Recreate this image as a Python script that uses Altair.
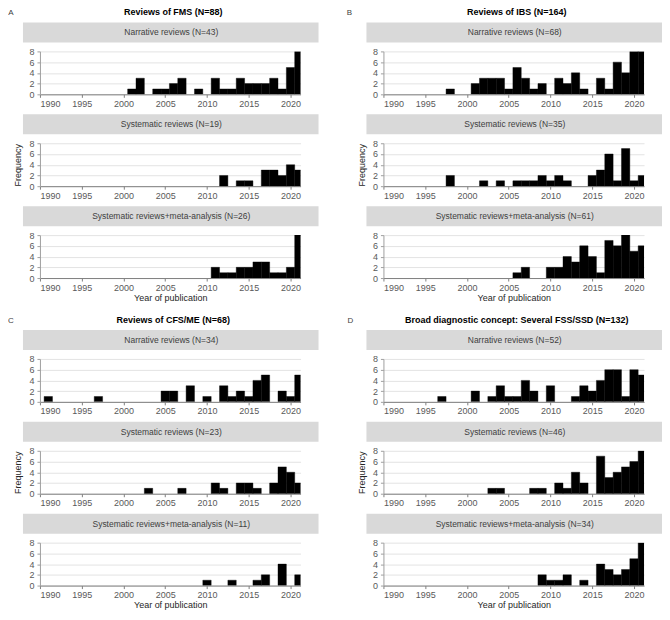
import altair as alt
import pandas as pd

FONT = "Liberation Sans"
W = 261
H = 43

YEARS = list(range(1990, 2022))
TICK_YEARS = [1990, 1995, 2000, 2005, 2010, 2015, 2020]
FREQ_TICKS = [0, 2, 4, 6, 8]

# Number of reviews per publication year, 1990 ... 2021 (32 values each)
#                  1990s                  2000s                  2010s                 2020 2021
fms_narrative  = [0,0,0,0,0,0,0,0,0,0, 0,1,3,0,1,1,2,3,0,1, 0,3,1,1,3,2,2,2,3,1, 5,8]
fms_systematic = [0,0,0,0,0,0,0,0,0,0, 0,0,0,0,0,0,0,0,0,0, 0,0,2,0,1,1,0,3,3,2, 4,3]
fms_srma       = [0,0,0,0,0,0,0,0,0,0, 0,0,0,0,0,0,0,0,0,0, 0,2,1,1,2,2,3,3,1,1, 2,8]

ibs_narrative  = [0,0,0,0,0,0,0,0,1,0, 0,2,3,3,3,1,5,3,1,2, 0,3,2,4,1,0,3,1,6,4, 8,8]
ibs_systematic = [0,0,0,0,0,0,0,0,2,0, 0,0,1,0,1,0,1,1,1,2, 1,2,1,0,0,2,3,6,1,7, 1,2]
ibs_srma       = [0,0,0,0,0,0,0,0,0,0, 0,0,0,0,0,0,1,2,0,0, 2,2,4,3,6,4,1,7,6,8, 5,6]

cfs_narrative  = [0,1,0,0,0,0,0,1,0,0, 0,0,0,0,0,2,2,0,3,0, 1,0,3,1,2,1,4,5,0,2, 1,5]
cfs_systematic = [0,0,0,0,0,0,0,0,0,0, 0,0,0,1,0,0,0,1,0,0, 0,2,1,0,2,2,1,0,2,5, 4,2]
cfs_srma       = [0,0,0,0,0,0,0,0,0,0, 0,0,0,0,0,0,0,0,0,0, 1,0,0,1,0,0,1,2,0,4, 0,2]

fss_narrative  = [0,0,0,0,0,0,0,1,0,0, 0,2,0,1,3,1,1,4,2,0, 3,0,0,1,3,2,4,6,6,1, 6,5]
fss_systematic = [0,0,0,0,0,0,0,0,0,0, 0,0,0,1,1,0,0,0,1,1, 0,2,1,4,2,0,7,3,4,5, 6,8]
fss_srma       = [0,0,0,0,0,0,0,0,0,0, 0,0,0,0,0,0,0,0,0,2, 1,1,2,0,1,0,4,3,2,3, 5,8]

PANELS = [
    ("A", "Reviews of FMS (N=88)",
     [("Narrative reviews (N=43)", fms_narrative),
      ("Systematic reviews (N=19)", fms_systematic),
      ("Systematic reviews+meta-analysis (N=26)", fms_srma)]),
    ("B", "Reviews of IBS (N=164)",
     [("Narrative reviews (N=68)", ibs_narrative),
      ("Systematic reviews (N=35)", ibs_systematic),
      ("Systematic reviews+meta-analysis (N=61)", ibs_srma)]),
    ("C", "Reviews of CFS/ME (N=68)",
     [("Narrative reviews (N=34)", cfs_narrative),
      ("Systematic reviews (N=23)", cfs_systematic),
      ("Systematic reviews+meta-analysis (N=11)", cfs_srma)]),
    ("D", "Broad diagnostic concept: Several FSS/SSD (N=132)",
     [("Narrative reviews (N=52)", fss_narrative),
      ("Systematic reviews (N=46)", fss_systematic),
      ("Systematic reviews+meta-analysis (N=34)", fss_srma)]),
]


def make_row(label, counts, idx, letter, title, letter_x):
    df = pd.DataFrame({"year": YEARS, "count": counts})
    xaxis = alt.Axis(
        values=TICK_YEARS, format="d", grid=False,
        title="Year of publication" if idx == 2 else None,
        labelFontSize=9, labelColor="#595959", labelPadding=2,
        tickSize=3, tickColor="#808080", domainColor="#808080",
        titleFontSize=9, titleFontWeight="normal", titleColor="#262626", titlePadding=1,
    )
    yaxis = alt.Axis(
        values=FREQ_TICKS, grid=True, gridColor="#e3e3e3",
        title="Frequency" if idx == 1 else None,
        labelFontSize=9, labelColor="#595959", labelPadding=3,
        tickSize=3, tickColor="#a0a0a0", domainColor="#a0a0a0",
        titleFontSize=9, titleFontWeight="normal", titleColor="#262626", titlePadding=6,
    )
    bars = (
        alt.Chart(df)
        .transform_filter("datum.count > 0")
        .transform_calculate(x0="datum.year - 0.5", x1="datum.year + 0.5")
        .mark_bar(color="black", clip=True, stroke="black", strokeWidth=0.4)
        .encode(
            x=alt.X("x0:Q", scale=alt.Scale(domain=[1990, 2021.2], nice=False, zero=False), axis=xaxis),
            x2="x1:Q",
            y=alt.Y("count:Q", scale=alt.Scale(domain=[0, 8], nice=False), axis=yaxis),
            y2=alt.datum(0),
        )
    )
    lab = pd.DataFrame({"label": [label]})
    hdr = alt.Chart(lab).mark_rect(color="#d9d9d9").encode(
        x=alt.value(-17), x2=alt.value(W + 18), y=alt.value(-29), y2=alt.value(-9)
    )
    hdr_txt = alt.Chart(lab).mark_text(font=FONT, fontSize=8.5, color="#404040", baseline="middle").encode(
        x=alt.value(W / 2 + 1), y=alt.value(-19), text="label:N"
    )
    layers = [hdr, hdr_txt, bars]
    if idx == 0:
        tt = pd.DataFrame({"letter": [letter], "title": [title]})
        layers.append(alt.Chart(tt).mark_text(font=FONT, fontSize=8, color="#404040", baseline="middle").encode(
            x=alt.value(letter_x), y=alt.value(-38), text="letter:N"))
        layers.append(alt.Chart(tt).mark_text(font=FONT, fontSize=9, fontWeight="bold", color="#000000",
                                              baseline="middle").encode(
            x=alt.value(W / 2 + 3), y=alt.value(-39), text="title:N"))
    return alt.layer(*layers).properties(width=W, height=H)


def make_panel(p, letter_x):
    letter, title, rows = p
    return alt.vconcat(*[make_row(lbl, c, i, letter, title, letter_x) for i, (lbl, c) in enumerate(rows)],
                       spacing=6)


left = alt.vconcat(make_panel(PANELS[0], -29), make_panel(PANELS[2], -29), spacing=14)
right = alt.vconcat(make_panel(PANELS[1], -34), make_panel(PANELS[3], -33), spacing=14)

chart = (
    alt.hconcat(left, right, spacing=28)
    .properties(padding=0)
    .configure_view(stroke=None)
    .configure_axis(labelFont=FONT, titleFont=FONT)
)

chart.save("out.html", embed_options={"renderer": "svg", "actions": False})
